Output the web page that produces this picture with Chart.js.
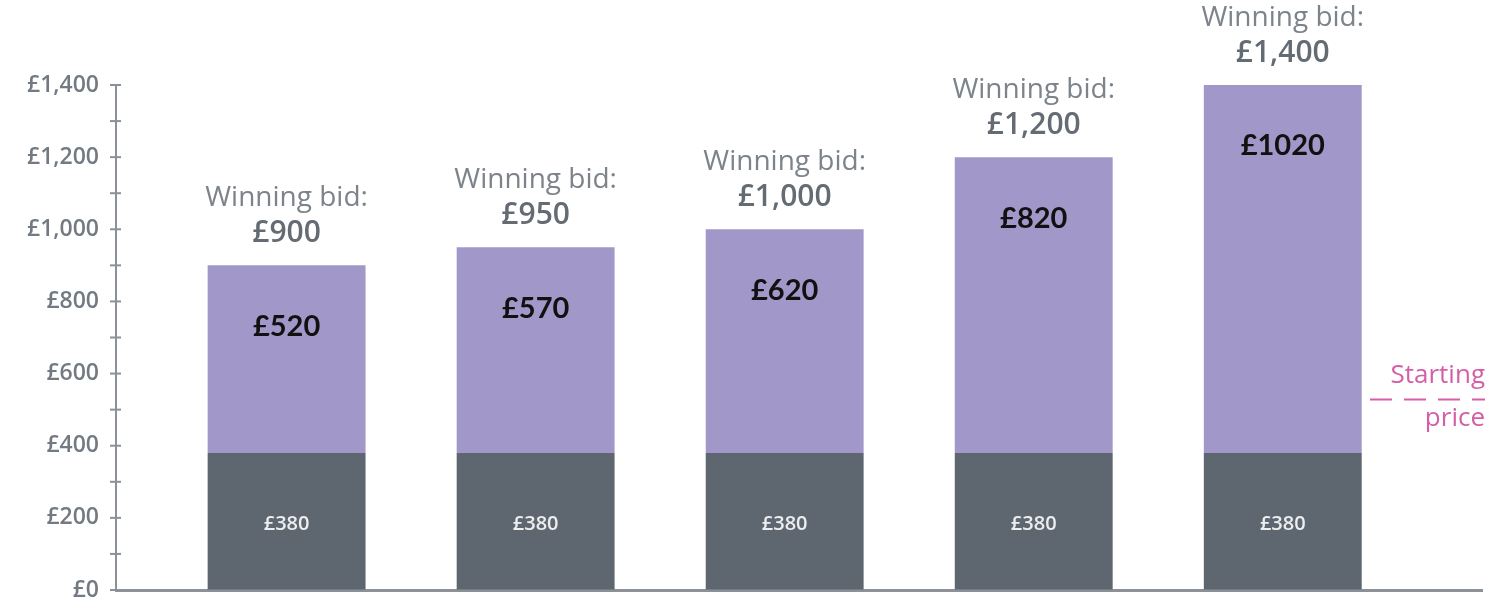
<!DOCTYPE html>
<html>
<head>
<meta charset="utf-8">
<script src="https://cdn.jsdelivr.net/npm/chart.js@4.4.0/dist/chart.umd.min.js"></script>
<style>
  html, body { margin: 0; padding: 0; background: #fff; }
  #wrap { width: 1499px; height: 606px; }
</style>
</head>
<body>
<div id="wrap"><canvas id="bidChart"></canvas></div>
<script>
// Chart values
var lots = [0, 1, 2, 3, 4];
var startingPrice = [380, 380, 380, 380, 380];
var aboveStart = [520, 570, 620, 820, 1020];
var winningBid = [900, 950, 1000, 1200, 1400];
var yTicks = [0, 200, 400, 600, 800, 1000, 1200, 1400];

var purple = '#a197c8';
var slate = '#5e6770';
var axisGrey = '#8b9197';
var pink = '#d45fa6';

function pounds(v) {
    return '£' + v.toLocaleString('en-GB');
}

var barLabels = {
    id: 'barLabels',
    afterDatasetsDraw: function(chart) {
        var ctx = chart.ctx;
        var low = chart.getDatasetMeta(0).data;
        var high = chart.getDatasetMeta(1).data;
        ctx.save();
        ctx.textAlign = 'center';
        ctx.textBaseline = 'middle';
        for (var i = 0; i < lots.length; i++) {
            var b = low[i], t = high[i];
            // starting price inside dark segment
            ctx.fillStyle = '#eceef0';
            ctx.font = '600 20px "Open Sans"';
            ctx.fillText(pounds(startingPrice[i]), b.x, (b.y + b.base) / 2 + 3);
            // amount above start inside purple segment
            ctx.fillStyle = '#111';
            ctx.font = 'bold 29px Lato';
            ctx.fillText('£' + aboveStart[i], t.x, t.y + 61);
            // winning bid caption above bar
            ctx.fillStyle = '#7d838a';
            ctx.font = '28px "Open Sans"';
            ctx.fillText('Winning bid:', t.x, t.y - 67);
            ctx.fillStyle = '#646b73';
            ctx.font = '600 30px "Open Sans"';
            ctx.fillText(pounds(winningBid[i]), t.x, t.y - 32);
        }
        ctx.restore();
    }
};

var axisDecor = {
    id: 'axisDecor',
    afterDraw: function(chart) {
        var ctx = chart.ctx;
        var y = chart.scales.y;
        var area = chart.chartArea;
        ctx.save();
        ctx.strokeStyle = axisGrey;
        ctx.lineWidth = 2;
        y.ticks.forEach(function(tk) {
            var py = y.getPixelForValue(tk.value);
            ctx.beginPath();
            ctx.moveTo(area.left - 6, py);
            ctx.lineTo(area.left + 5, py);
            ctx.stroke();
        });
        // starting price note on the right
        var py = y.getPixelForValue(600);
        ctx.textAlign = 'right';
        ctx.textBaseline = 'middle';
        ctx.fillStyle = pink;
        ctx.font = '26px "Open Sans"';
        ctx.fillText('Starting', area.right + 3, py + 2);
        ctx.fillText('price', area.right + 3, py + 45);
        ctx.strokeStyle = pink;
        ctx.lineWidth = 2;
        ctx.setLineDash([22, 12]);
        ctx.beginPath();
        ctx.moveTo(area.right - 112, py + 26);
        ctx.lineTo(area.right + 3, py + 26);
        ctx.stroke();
        ctx.restore();
    }
};

new Chart(document.getElementById('bidChart').getContext('2d'), {
    type: 'bar',
    data: {
        datasets: [{
            label: 'Starting price',
            data: lots.map(function(x, i) { return { x: x, y: startingPrice[i] }; }),
            backgroundColor: slate,
            borderWidth: 0
        }, {
            label: 'Above starting price',
            data: lots.map(function(x, i) { return { x: x, y: aboveStart[i] }; }),
            backgroundColor: purple,
            borderWidth: 0
        }]
    },
    options: {
        responsive: true,
        maintainAspectRatio: false,
        animation: false,
        layout: { padding: { top: 85, right: 17, bottom: 16, left: 0 } },
        datasets: { bar: { categoryPercentage: 1, barPercentage: 0.634 } },
        plugins: {
            legend: { display: false },
            tooltip: { enabled: false }
        },
        scales: {
            x: {
                type: 'linear',
                stacked: true,
                offset: false,
                min: -0.685,
                max: 4.8,
                afterBuildTicks: function(s) {
                    s.ticks = lots.map(function(v) { return { value: v }; });
                },
                ticks: { display: false },
                grid: { display: false },
                border: { display: true, color: axisGrey, width: 3 },
                afterFit: function(s) { s.height = 0; }
            },
            y: {
                stacked: true,
                min: 0,
                max: 1400,
                afterBuildTicks: function(s) {
                    var t = [];
                    for (var v = 0; v <= 1400; v += 100) t.push({ value: v });
                    s.ticks = t;
                },
                ticks: {
                    color: '#737a82',
                    font: { family: 'Open Sans', size: 23, weight: '600' },
                    padding: 17,
                    callback: function(v) { return yTicks.indexOf(v) >= 0 ? pounds(v) : ''; }
                },
                grid: { display: true, drawOnChartArea: false, drawTicks: false, color: axisGrey },
                border: { display: true, color: axisGrey, width: 2 },
                afterFit: function(s) {
                    s.width = 116;
                    s.paddingTop = 0;
                    s.paddingBottom = 0;
                }
            }
        }
    },
    plugins: [barLabels, axisDecor]
});
</script>
</body>
</html>
